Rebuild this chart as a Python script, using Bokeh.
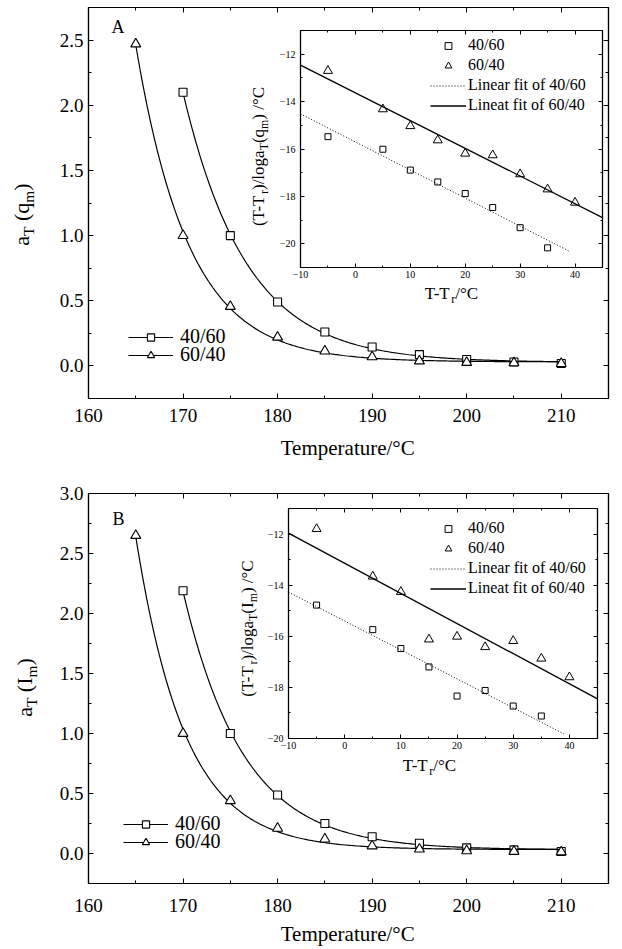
import numpy as np
from math import pi
from bokeh.plotting import figure
from bokeh.models import (Range1d, LinearAxis, SingleIntervalTicker, NumeralTickFormatter,
                          Legend, LegendItem, Label, GridBox)
from bokeh.layouts import column
from bokeh.embed import file_html
from bokeh.resources import INLINE

FONT = "Liberation Serif"

# ---------------- data ----------------
# main plots: shift factor a_T vs temperature
temp_4060 = [170, 175, 180, 185, 190, 195, 200, 205, 210]
temp_6040 = [165, 170, 175, 180, 185, 190, 195, 200, 205, 210]
aTq_4060 = [2.10, 1.00, 0.49, 0.26, 0.145, 0.087, 0.049, 0.030, 0.018]
aTq_6040 = [2.47, 1.00, 0.456, 0.22, 0.114, 0.069, 0.038, 0.026, 0.023, 0.018]
aTI_4060 = [2.19, 1.00, 0.487, 0.25, 0.139, 0.086, 0.047, 0.030, 0.017]
aTI_6040 = [2.65, 1.00, 0.44, 0.21, 0.12, 0.063, 0.036, 0.022, 0.017, 0.013]

# insets: (T-Tr)/log aT vs T-Tr
dT_4060 = [-5, 5, 10, 15, 20, 25, 30, 35]
dT_6040 = [-5, 5, 10, 15, 20, 25, 30, 35, 40]
inq_4060 = [-15.48, -16.01, -16.89, -17.39, -17.88, -18.47, -19.32, -20.17]
inq_6040 = [-12.70, -14.32, -15.03, -15.63, -16.19, -16.26, -17.06, -17.70, -18.26]
inI_4060 = [-14.78, -15.74, -16.48, -17.20, -18.34, -18.12, -18.73, -19.12]
inI_6040 = [-11.80, -13.66, -14.26, -16.12, -16.01, -16.42, -16.18, -16.87, -17.60]

series_labels = ["40/60", "60/40"]
fit_labels = ["Linear fit of 40/60", "Lineat fit of 60/40"]
FIT_SPAN_4060 = (-10, 39)
FIT_SPAN_6040 = (-10, 45)

# ---------------- helpers ----------------
WID = {'a': .444, 'T': .611, ' ': .25, '(': .333, ')': .333, 'q': .5, 'm': .778, 'I': .333,
       '-': .333, 'r': .333, '/': .278, 'l': .278, 'o': .5, 'g': .5, '°': .4, 'C': .667,
       'e': .444, 'p': .5, 't': .278, 'u': .5}
BASE_FIX = 0.35  # empirical baseline correction (fraction of font size)


def twidth(s, size):
    return sum(WID.get(c, 0.5) for c in s) * size


def rich_label(p, parts, x, y, size, vertical=False):
    """parts: list of (text, is_sub). x,y = baseline centre, screen px rel. to frame (y up)."""
    sizes = [size * 0.7 if sub else size for _, sub in parts]
    widths = [twidth(t, fs) for (t, _), fs in zip(parts, sizes)]
    pos = -sum(widths) / 2
    for (t, sub), fs, w in zip(parts, sizes, widths):
        lead = len(t) - len(t.lstrip(" "))
        off = pos + lead * WID[' '] * fs
        shift = (0.22 * size if sub else 0.0) - BASE_FIX * fs
        if vertical:
            lx, ly, ang = x + shift, y + off, pi / 2
        else:
            lx, ly, ang = x + off, y - shift, 0.0
        p.add_layout(Label(x=lx, y=ly, x_units="screen", y_units="screen", text=t.strip(),
                           angle=ang, text_font=FONT, text_font_size=f"{fs:.1f}px",
                           text_align="left", text_baseline="alphabetic", text_color="black"))
        pos += w


def style_ax(ax, fsize, standoff, tick_in=5, minor_in=3):
    ax.axis_line_color = "black"
    ax.axis_line_width = 1.2
    ax.major_tick_in = tick_in
    ax.major_tick_out = 0
    ax.minor_tick_in = minor_in
    ax.minor_tick_out = 0
    ax.major_tick_line_color = "black"
    ax.minor_tick_line_color = "black"
    ax.major_label_text_font = FONT
    ax.major_label_text_font_size = f"{fsize}px"
    ax.major_label_text_color = "black"
    ax.major_label_standoff = standoff


def box_axes(p, xt, yt, tick_in=5, minor_in=3):
    for loc, t in (("above", xt), ("right", yt)):
        ax = LinearAxis(ticker=t)
        style_ax(ax, 0, 0, tick_in, minor_in)
        ax.major_label_text_font_size = "0px"
        ax.major_label_text_color = None
        p.add_layout(ax, loc)


def exp_fit(x, y, n=200):
    x = np.asarray(x, float)
    y = np.asarray(y, float)
    best = None
    for k in np.linspace(0.02, 1.2, 1181):
        e = np.exp(-k * (x - x[0]))
        A = np.column_stack([e, np.ones_like(e)])
        coef = np.linalg.lstsq(A, y, rcond=None)[0]
        r = float(np.sum((A @ coef - y) ** 2))
        if best is None or r < best[0]:
            best = (r, k, coef)
    _, k, (a, c) = best
    xs = np.linspace(x[0], x[-1], n)
    return xs, a * np.exp(-k * (xs - x[0])) + c


def main_panel(height, btop, bbot, yend, y4060, y6040, xstand, leg_x, leg_ys):
    p = figure(width=614, height=height, x_range=Range1d(160, 215), y_range=Range1d(-0.25, yend),
               output_backend="svg", toolbar_location=None, frame_align=False,
               min_border_left=88, min_border_right=6, min_border_top=btop, min_border_bottom=bbot,
               background_fill_color="white", border_fill_color="white")
    p.grid.visible = False
    p.outline_line_color = "black"
    p.outline_line_width = 1.2
    xt = SingleIntervalTicker(interval=10, num_minor_ticks=2)
    yt = SingleIntervalTicker(interval=0.5, num_minor_ticks=2)
    p.xaxis.ticker = xt
    p.yaxis.ticker = yt
    p.yaxis.formatter = NumeralTickFormatter(format="0.0")
    for ax in p.xaxis:
        style_ax(ax, 19, xstand)
    for ax in p.yaxis:
        style_ax(ax, 19, 5)
    box_axes(p, xt, yt)

    for xs, ys, mk, sz, lab, ly in ((temp_4060, y4060, "square", 8, series_labels[0], leg_ys[0]),
                                    (temp_6040, y6040, "triangle", 10, series_labels[1], leg_ys[1])):
        fx, fy = exp_fit(xs, ys)
        lr = p.line(fx, fy, line_color="black", line_width=1.2)
        sr = p.scatter(xs, ys, marker=mk, size=sz, fill_color="white", line_color="black",
                       line_width=1.1)
        leg = Legend(items=[LegendItem(label=lab, renderers=[lr, sr])], location=(leg_x, ly),
                     glyph_width=45, glyph_height=18, label_height=18, spacing=0,
                     label_standoff=7, padding=0, margin=0, border_line_color=None,
                     background_fill_alpha=0, label_text_font=FONT, label_text_font_size="20px",
                     label_text_color="black")
        p.add_layout(leg)
    return p


def inset_panel(width, height, yr, y4060, y6040, leg_xy):
    p = figure(width=width, height=height, x_range=Range1d(-10, 45), y_range=Range1d(*yr),
               output_backend="svg", toolbar_location=None, frame_align=False,
               min_border_left=30, min_border_right=4, min_border_top=4, min_border_bottom=24,
               background_fill_color="white", border_fill_alpha=0)
    p.grid.visible = False
    p.outline_line_color = "black"
    p.outline_line_width = 1.1
    xt = SingleIntervalTicker(interval=10, num_minor_ticks=2)
    yt = SingleIntervalTicker(interval=2, num_minor_ticks=2)
    p.xaxis.ticker = xt
    p.yaxis.ticker = yt
    for ax in p.xaxis:
        style_ax(ax, 10, 3, 4, 2)
    for ax in p.yaxis:
        style_ax(ax, 10, 5, 4, 2)
    box_axes(p, xt, yt, 4, 2)

    sq = p.scatter(dT_4060, y4060, marker="square", size=6, fill_color="white",
                   line_color="black", line_width=1.0)
    tr = p.scatter(dT_6040, y6040, marker="triangle", size=9, fill_color="white",
                   line_color="black", line_width=1.0)
    k1 = np.polyfit(dT_4060, y4060, 1)
    k2 = np.polyfit(dT_6040, y6040, 1)
    fx1 = np.array(FIT_SPAN_4060, float)
    fx2 = np.array(FIT_SPAN_6040, float)
    l1 = p.line(fx1, np.polyval(k1, fx1), line_color="black", line_width=1.0, line_dash="1 2")
    l2 = p.line(fx2, np.polyval(k2, fx2), line_color="black", line_width=1.3)
    leg = Legend(items=[LegendItem(label=series_labels[0], renderers=[sq]),
                        LegendItem(label=series_labels[1], renderers=[tr]),
                        LegendItem(label=fit_labels[0], renderers=[l1]),
                        LegendItem(label=fit_labels[1], renderers=[l2])],
                 location=leg_xy, glyph_width=36, glyph_height=17, label_height=17,
                 spacing=2, label_standoff=2, padding=0, margin=0,
                 border_line_color=None, background_fill_alpha=0, label_text_font=FONT,
                 label_text_font_size="16px", label_text_color="black")
    p.add_layout(leg)
    return p


def overlay(height, ylab_parts, ylab_xy, xlab_xy, in_ylab_parts, in_ylab_xy, in_xlab_xy,
            letter, letter_xy):
    o = figure(width=614, height=height, x_range=Range1d(0, 1), y_range=Range1d(0, 1),
               output_backend="svg", toolbar_location=None, frame_align=False,
               x_axis_location=None, y_axis_location=None,
               min_border_left=0, min_border_right=0, min_border_top=0, min_border_bottom=0,
               background_fill_alpha=0, border_fill_alpha=0, outline_line_color=None)
    o.grid.visible = False
    rich_label(o, ylab_parts, ylab_xy[0], ylab_xy[1], 22, vertical=True)
    rich_label(o, [("Temperature/°C", False)], xlab_xy[0], xlab_xy[1], 21)
    rich_label(o, in_ylab_parts, in_ylab_xy[0], in_ylab_xy[1], 17, vertical=True)
    rich_label(o, [("T-T", False), ("r", True), ("/°C", False)], in_xlab_xy[0], in_xlab_xy[1], 17)
    o.add_layout(Label(x=letter_xy[0], y=letter_xy[1] + BASE_FIX * 18, x_units="screen",
                       y_units="screen", text=letter, text_font=FONT, text_font_size="18px",
                       text_color="black", text_align="left", text_baseline="alphabetic"))
    return o


# ---------------- panel A ----------------
HA, HB = 470, 478
pA = main_panel(HA, 7, 72, 2.75, aTq_4060, aTq_6040, 10, 40, (50, 32))
iA = inset_panel(336, 265, (-21, -11), inq_4060, inq_6040, (130, 153))
oA = overlay(HA, [("a", False), ("T", True), (" (q", False), ("m", True), (")", False)],
             (29, 256), (348, 15),
             [("(T-T", False), ("r", True), (")/loga", False), ("T", True), ("(q", False),
              ("m", True), (") /°C", False)],
             (264, 314), (451, 171), "A", (111, 437))
gA = GridBox(children=[(pA, 0, 0, 3, 3), (iA, 1, 1, 1, 1), (oA, 0, 0, 3, 3)],
             rows=["26px", "265px", "179px"], cols=["270px", "336px", "8px"], spacing=0)

# ---------------- panel B ----------------
pB = main_panel(HB, 23, 65, 3.0, aTI_4060, aTI_6040, 15, 35, (48, 30))
iB = inset_panel(343, 258, (-20, -11), inI_4060, inI_6040, (142, 141))
oB = overlay(HB, [("a", False), ("T", True), (" (I", False), ("m", True), (")", False)],
             (32, 261), (348, 7),
             [("(T-T", False), ("r", True), (")/loga", False), ("T", True), ("(I", False),
              ("m", True), (") /°C", False)],
             (253, 320), (429, 177), "B", (112, 423))
gB = GridBox(children=[(pB, 0, 0, 3, 3), (iB, 1, 1, 1, 1), (oB, 0, 0, 3, 3)],
             rows=["34px", "258px", "186px"], cols=["258px", "343px", "13px"], spacing=0)

layout = column(gA, gB, spacing=0)
open("out.html", "w").write(file_html(layout, INLINE))
